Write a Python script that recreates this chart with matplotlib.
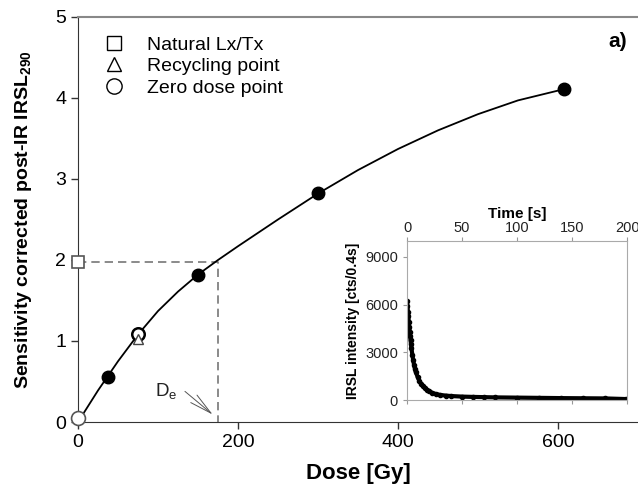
import matplotlib
matplotlib.use("Agg")
import matplotlib.pyplot as plt

plt.rcParams['font.family'] = ['Liberation Sans', 'DejaVu Sans']

# dose response data
dosis = [38, 150, 300, 608]
lxtx = [0.56, 1.81, 2.83, 4.11]
natural = (0, 1.97)
reciclaje = (75, 1.03)
reciclaje_circ = (75, 1.09)
cero = (0, 0.05)
De = 175

# curva ajustada
curva_x = [0, 25, 50, 75, 100, 125, 150, 175, 200, 250, 300, 350, 400, 450, 500, 550, 608]
curva_y = [0, 0.39, 0.75, 1.08, 1.37, 1.61, 1.82, 2.00, 2.17, 2.50, 2.82, 3.11, 3.37, 3.60, 3.80, 3.97, 4.11]

# curva de decaimiento IRSL
tiempo = [0, 0.4, 0.8, 1.2, 1.6, 2.0, 2.4, 2.8, 3.2, 3.6, 4.0, 4.8, 5.6, 6.4, 7.2, 8.0,
          9.6, 11.2, 12.8, 14.4, 16, 18, 20, 23, 26, 30, 35, 40, 50, 60, 70, 80,
          100, 120, 140, 160, 180, 199]
intensidad = [6200, 5900, 5550, 5250, 4900, 4600, 4300, 4000, 3750, 3500, 3250, 2850, 2500,
              2200, 1950, 1750, 1450, 1200, 1020, 880, 760, 640, 540, 450, 380, 320, 280, 250,
              215, 195, 180, 165, 150, 135, 120, 110, 100, 60]

fig = plt.figure(figsize=(6.38, 4.91), dpi=100)
ax = fig.add_axes([0.1223, 0.1405, 0.8777, 0.825])

ax.plot(curva_x, curva_y, color='black', lw=1.3, zorder=2)
ax.plot([0, De, De], [natural[1], natural[1], 0], color='#777777', lw=1.2,
        ls=(0, (5, 3)), zorder=1)
ax.plot(dosis, lxtx, 'o', color='black', ms=9, zorder=3)
ax.plot(*reciclaje_circ, 'o', mfc='white', mec='black', mew=1.8, ms=9, zorder=3)
ax.plot(*reciclaje, '^', mfc='white', mec='#444444', mew=1, ms=7, zorder=4)
ax.plot(*natural, 's', mfc='white', mec='#555555', mew=1.2, ms=9, zorder=4, clip_on=False)
ax.plot(*cero, 'o', mfc='white', mec='#555555', mew=1.2, ms=10, zorder=4, clip_on=False)

ax.annotate('', xy=(De - 4, 0.07), xytext=(131, 0.40),
            arrowprops=dict(arrowstyle='->,head_length=1.6,head_width=0.35',
                            color='#555555', lw=0.7))
ax.text(96, 0.31, 'D$_\\mathregular{e}$', fontsize=13.5, color='#222222')

ax.set_xlim(0, 700)
ax.set_ylim(0, 5)
ax.set_xticks([0, 200, 400, 600])
ax.set_yticks([0, 1, 2, 3, 4, 5])
ax.tick_params(direction='out', length=5, width=1, labelsize=14, colors='#333333')
ax.tick_params(axis='both', labelcolor='black')
for s in ['left', 'bottom']:
    ax.spines[s].set_color('#333333')
ax.spines['top'].set_color('#888888')
ax.spines['top'].set_linewidth(1.5)
ax.spines['right'].set_visible(False)
ax.set_xlabel('Dose [Gy]', fontsize=16, fontweight='bold', labelpad=9)
ax.set_ylabel('Sensitivity corrected post-IR IRSL$_\\mathregular{290}$', fontsize=14,
              fontweight='bold', labelpad=15)
ax.text(0.98, 0.925, 'a)', transform=ax.transAxes, fontsize=15, fontweight='bold', ha='right')

h1, = ax.plot([], [], 's', mfc='white', mec='black', ms=10)
h2, = ax.plot([], [], '^', mfc='white', mec='black', ms=10)
h3, = ax.plot([], [], 'o', mfc='white', mec='black', ms=11)
ax.legend([h1, h2, h3], ['Natural Lx/Tx', 'Recycling point', 'Zero dose point'],
          loc='upper left', bbox_to_anchor=(0.016, 0.972), frameon=False, fontsize=14,
          handletextpad=0.7, labelspacing=0.2, borderaxespad=0)

# inset
ins = fig.add_axes([0.638, 0.1853, 0.345, 0.324])
ins.plot(tiempo, intensidad, color='black', lw=3, solid_capstyle='round')
ins.plot(tiempo, intensidad, 'o', color='black', ms=3)
ins.set_xlim(0, 200)
ins.set_ylim(0, 10000)
ins.set_yticks([0, 3000, 6000, 9000])
ins.set_xticks([0, 50, 100, 150, 200])
ins.xaxis.tick_top()
ins.xaxis.set_label_position('top')
ins.tick_params(axis='x', which='both', bottom=True, top=True, labelbottom=False,
                direction='out', length=3, pad=1.5, labelsize=10.5, colors='#999999',
                labelcolor='#222222')
ins.tick_params(axis='y', direction='out', length=3, labelsize=10.5, colors='#999999',
                labelcolor='#222222')
for s in ins.spines.values():
    s.set_color('#aaaaaa')
ins.set_xlabel('Time [s]', fontsize=11, fontweight='bold', labelpad=2)
ins.set_ylabel('IRSL intensity [cts/0.4s]', fontsize=10, fontweight='bold', labelpad=4)

fig.savefig('out.png', dpi=100)
